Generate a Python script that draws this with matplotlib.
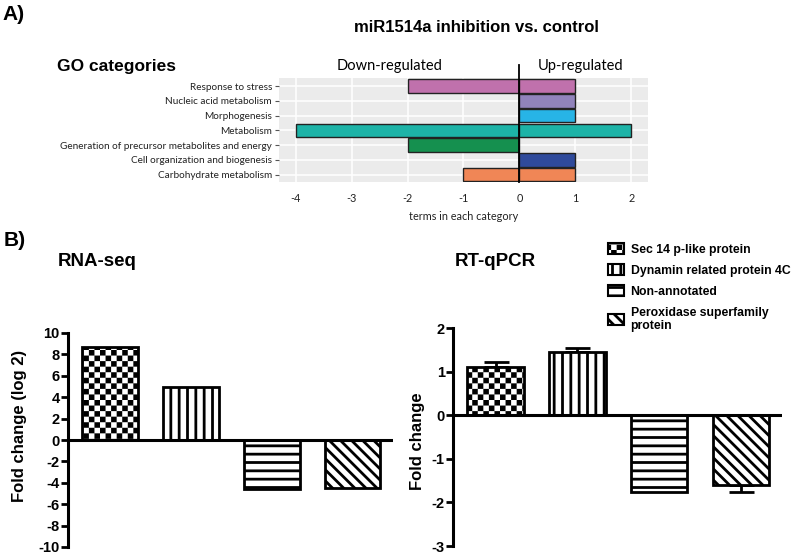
import warnings
import numpy as np
import matplotlib
matplotlib.use("Agg")
import matplotlib.pyplot as plt
import matplotlib.hatch as mhatch
from matplotlib.path import Path

warnings.filterwarnings("ignore")

# ---- data ----
go_terms = ["Response to stress", "Nucleic acid metabolism", "Morphogenesis",
            "Metabolism", "Generation of precursor metabolites and energy",
            "Cell organization and biogenesis", "Carbohydrate metabolism"]
go_down = [-2, 0, 0, -4, -2, 0, -1]
go_up = [1, 1, 1, 2, 0, 1, 1]
go_colors = ["#C071AC", "#9183BB", "#27B4E6", "#1DB3A7", "#15904F", "#2F4A9B", "#F08656"]

genes = ["Sec 14 p-like protein", "Dynamin related protein 4C", "Non-annotated",
         "Peroxidase superfamily\nprotein"]
rnaseq_fc = [8.65, 4.95, -4.6, -4.45]
qpcr_fc = [1.1, 1.46, -1.76, -1.6]
qpcr_err = [0.12, 0.08, 0.0, 0.15]

hatches = ["ccc", "||", "--", "\\\\\\"]

HATCH_LW = 2.0
plt.rcParams["hatch.linewidth"] = HATCH_LW
plt.rcParams["axes.unicode_minus"] = False


# checkerboard hatch ('c'), matplotlib has none built in
class CheckerHatch(mhatch.HatchPatternBase):
    filled = True

    def __init__(self, hatch, density):
        self.n = hatch.count("c") * 3
        self.num_vertices = self.n * self.n * 2 * 5

    def set_vertices_and_codes(self, vertices, codes):
        s = 1.0 / self.n
        h = s / 2
        g = HATCH_LW / 72 / 2  # hatch paths get stroked too, shrink to compensate
        k = 0
        for i in range(self.n):
            for j in range(self.n):
                for x0, y0 in [(i * s + g, j * s + g), (i * s + h + g, j * s + h + g)]:
                    d = h - 2 * g
                    vertices[k:k + 5] = [(x0, y0), (x0 + d, y0), (x0 + d, y0 + d),
                                         (x0, y0 + d), (x0, y0)]
                    codes[k] = Path.MOVETO
                    codes[k + 1:k + 4] = Path.LINETO
                    codes[k + 4] = Path.CLOSEPOLY
                    k += 5


mhatch._hatch_types.append(CheckerHatch)

W, H = 791, 558


def box(l, t, r, b):
    return [l / W, 1 - b / H, (r - l) / W, (b - t) / H]


def fx(x):
    return x / W


def fy(y):
    return 1 - y / H


SANS = ["Liberation Sans", "DejaVu Sans"]
CAL = ["Lato", "DejaVu Sans"]

fig = plt.figure(figsize=(W / 100, H / 100), dpi=100)

# ---------- panel A ----------
ax = fig.add_axes(box(279, 78, 648, 182))
ax.set_facecolor("#EBEBEB")
ypos = np.arange(len(go_terms))[::-1]
for vals in (go_down, go_up):
    v = np.array(vals)
    m = v != 0
    ax.barh(ypos[m], v[m], height=0.9, color=np.array(go_colors)[m],
            edgecolor="#222222", linewidth=1.0, zorder=3)
ax.set_xlim(-4.3, 2.3)
ax.set_ylim(-0.5, 6.55)
ax.set_xticks(range(-4, 3))
ax.set_yticks(ypos)
ax.set_yticklabels(go_terms, family=CAL, color="#222222")
for lab in ax.get_xticklabels():
    lab.set_family(CAL)
ax.tick_params(length=3, color="#555555", labelcolor="#222222", pad=2)
ax.tick_params(axis="y", labelsize=7.2)
ax.tick_params(axis="x", length=0, pad=8, labelsize=7.8)
ax.grid(color="white", linewidth=1.1)
ax.set_axisbelow(True)
for s in ax.spines.values():
    s.set_visible(False)
ax.plot([0, 0], [-0.5, 7.4], color="black", lw=1.3, clip_on=False, zorder=4)
ax.set_xlabel("terms in each category", family=CAL, fontsize=7.8, color="#222222", labelpad=5)

fig.text(fx(2), fy(15), "A)", family=SANS, fontsize=15, weight="bold", va="center")
fig.text(fx(476), fy(27), "miR1514a inhibition vs. control", family=SANS, fontsize=12,
         weight="bold", ha="center", va="center")
fig.text(fx(57), fy(67), "GO categories", family=SANS, fontsize=12.5, weight="bold", va="center")
fig.text(fx(390), fy(66), "Down-regulated", family=CAL, fontsize=10.5, ha="center", va="center")
fig.text(fx(581), fy(66), "Up-regulated", family=CAL, fontsize=10.5, ha="center", va="center")


# ---------- panel B ----------
def bar_panel(rect, vals, lim, step, err=None):
    a = fig.add_axes(rect)
    x = np.arange(len(vals))
    bars = a.bar(x, vals, width=0.69, color="white", edgecolor="black", linewidth=2, zorder=3)
    for b, h in zip(bars, hatches):
        b.set_hatch(h)
    if err is not None:
        v = np.array(vals)
        e = np.array(err)
        m = e > 0
        lower = np.where(v < 0, e, 0)[m]
        upper = np.where(v > 0, e, 0)[m]
        a.errorbar(x[m], v[m], yerr=[lower, upper], fmt="none", ecolor="black",
                   elinewidth=2, capsize=9, capthick=2, zorder=2)
    a.set_xlim(-0.52, 3.5)
    a.set_ylim(*lim)
    a.set_yticks(np.arange(lim[0], lim[1] + step / 2, step))
    a.axhline(0, color="black", lw=2.2, zorder=4)
    for s in ["top", "right", "bottom"]:
        a.spines[s].set_visible(False)
    a.spines["left"].set_linewidth(2.2)
    a.set_xticks([])
    a.tick_params(axis="y", length=5, width=2, labelsize=10.5, pad=1)
    for lab in a.get_yticklabels():
        lab.set_family(SANS)
        lab.set_weight("bold")
    return bars


bar_panel(box(68, 333, 393, 547), rnaseq_fc, (-10, 10), 2)
qbars = bar_panel(box(453, 328, 782, 546), qpcr_fc, (-3, 2), 1, qpcr_err)

fig.text(fx(4), fy(240), "B)", family=SANS, fontsize=15, weight="bold", va="center")
fig.text(fx(58), fy(261), "RNA-seq", family=SANS, fontsize=13.5, weight="bold", va="center")
fig.text(fx(455), fy(262), "RT-qPCR", family=SANS, fontsize=13.5, weight="bold", va="center")
fig.text(fx(20), fy(426), "Fold change (log 2)", family=SANS, fontsize=12, weight="bold",
         rotation=90, ha="center", va="center")
fig.text(fx(418), fy(441), "Fold change", family=SANS, fontsize=12, weight="bold",
         rotation=90, ha="center", va="center")

leg = fig.legend(handles=list(qbars), labels=genes, loc="upper left",
                 bbox_to_anchor=(fx(608), fy(243)), frameon=False,
                 prop={"family": SANS, "weight": "bold", "size": 8.8},
                 handlelength=1.3, handleheight=1.0, labelspacing=0.7, handletextpad=0.55,
                 borderpad=0, borderaxespad=0)
for p in leg.get_patches():
    p.set_linewidth(1.5)

fig.savefig("out.png", dpi=100)
